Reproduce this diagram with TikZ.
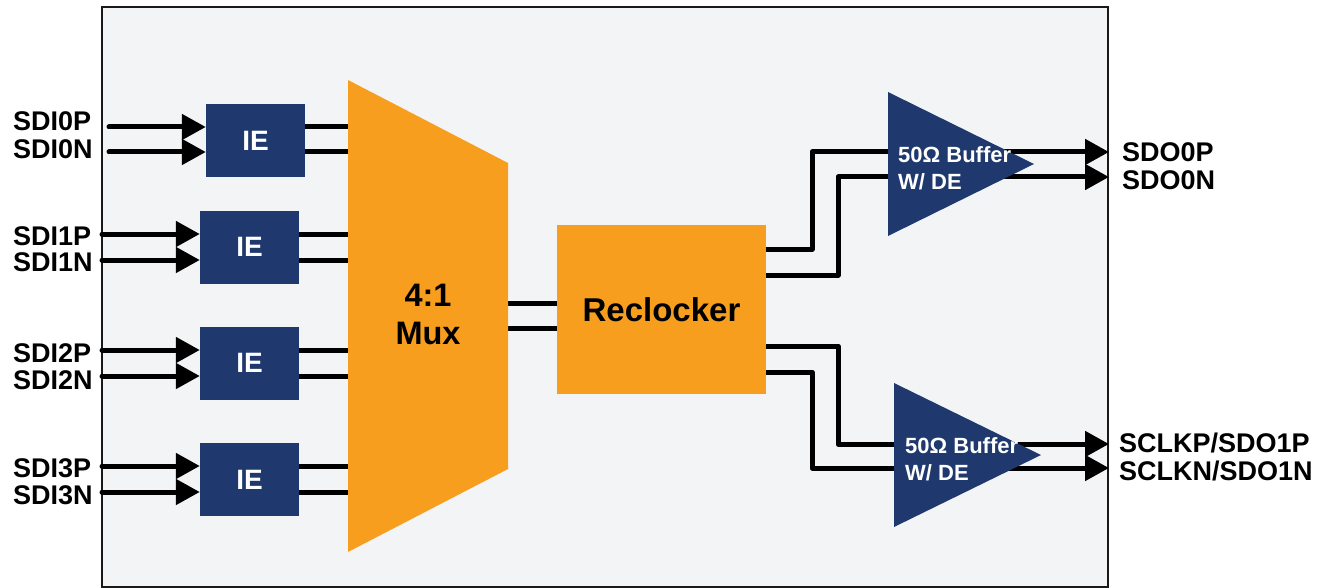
\documentclass[tikz,border=0pt]{standalone}
\usepackage{fontspec}
\setmainfont{Liberation Sans}
\usetikzlibrary{arrows.meta}
\definecolor{navy}{RGB}{31,57,110}
\definecolor{orng}{RGB}{248,158,30}
\definecolor{bgc}{RGB}{243,244,246}
\begin{document}
\begin{tikzpicture}[x=1pt,y=-1pt,
  wire/.style={line width=5pt,line cap=round,line join=round},
  arr/.style={line width=5pt,line cap=round,-{Triangle[length=24pt,width=25pt]}},
  iebox/.style={fill=navy,text=white,minimum width=99pt,minimum height=73pt,inner sep=0pt,font=\fontsize{28}{28}\selectfont\bfseries},
  orbox/.style={fill=orng,minimum width=209pt,minimum height=169pt,inner sep=0pt,font=\fontsize{33}{38}\selectfont\bfseries},
  lbl/.style={anchor=west,inner sep=0pt,font=\fontsize{27}{27}\selectfont\bfseries},
  buftxt/.style={anchor=west,inner sep=0pt,text=white,align=left,font=\fontsize{22}{27}\selectfont\bfseries},
  bigtxt/.style={inner sep=0pt,align=center,font=\fontsize{32.5}{38}\selectfont\bfseries}]
\useasboundingbox (0,0) rectangle (1327,588);
\draw[fill=bgc,line width=2pt,draw=black!90] (102,7) rectangle (1108,587);

% coordinates
\coordinate (s0p) at (109,127); \coordinate (s0n) at (109,152);
\coordinate (s1p) at (102,234); \coordinate (s1n) at (102,260);
\coordinate (s2p) at (102,350); \coordinate (s2n) at (102,376);
\coordinate (s3p) at (102,466); \coordinate (s3n) at (102,492);
\coordinate (mtl) at (348,80); \coordinate (mtr) at (508,163);
\coordinate (mbr) at (508,469); \coordinate (mbl) at (348,552);
\coordinate (m1) at (508,303); \coordinate (m2) at (508,328);
\coordinate (r1) at (766,249); \coordinate (r2) at (766,275);
\coordinate (r3) at (766,346); \coordinate (r4) at (766,372);
\coordinate (ka) at (812,0); \coordinate (kb) at (838,0);
\coordinate (b1l) at (888,92); \coordinate (b1b) at (888,236); \coordinate (b1t) at (1034,164);
\coordinate (b2l) at (894,383); \coordinate (b2b) at (894,527); \coordinate (b2t) at (1041,455);
\coordinate (b1i1) at (920,152); \coordinate (b1i2) at (920,177);
\coordinate (b2i1) at (925,444); \coordinate (b2i2) at (925,468);
\coordinate (edge) at (1109,0);

% nodes (placed for reference)
\path
  (255.5,140.5) node[iebox] (ie0) {}
  (249.5,247) node[iebox] (ie1) {}
  (249.5,363) node[iebox] (ie2) {}
  (249.5,479.5) node[iebox] (ie3) {}
  (661.5,309.5) node[orbox] (rc) {};

% wires IE -> mux
\foreach \s/\b in {s0p/ie0,s0n/ie0,s1p/ie1,s1n/ie1,s2p/ie2,s2n/ie2,s3p/ie3,s3n/ie3}
  \draw[wire] (\s -| \b.center) -- (\s -| mtl);
% mux -> reclocker
\draw[wire] (m1) -- (m1 -| rc.center);
\draw[wire] (m2) -- (m2 -| rc.center);
% reclocker -> buffers
\draw[wire] (r1) -- (r1 -| ka) |- (b1i1);
\draw[wire] (r2) -- (r2 -| kb) |- (b1i2);
\draw[wire] (r3) -- (r3 -| kb) |- (b2i1);
\draw[wire] (r4) -- (r4 -| ka) |- (b2i2);
% outputs
\draw[arr] (b1i1) -- (b1i1 -| edge);
\draw[arr] (b1i2) -- (b1i2 -| edge);
\draw[arr] (b2i1) -- (b2i1 -| edge);
\draw[arr] (b2i2) -- (b2i2 -| edge);

% shapes
\node[iebox] at (ie0) {IE};
\node[iebox] at (ie1) {IE};
\node[iebox] at (ie2) {IE};
\node[iebox] at (ie3) {IE};
\fill[orng] (mtl) -- (mtr) -- (mbr) -- (mbl) -- cycle;
\node[orbox] at (rc) {Reclocker};
\fill[navy] (b1l) -- (b1t) -- (b1b) -- cycle;
\fill[navy] (b2l) -- (b2t) -- (b2b) -- cycle;

% input arrows
\foreach \s/\b in {s0p/ie0,s0n/ie0,s1p/ie1,s1n/ie1,s2p/ie2,s2n/ie2,s3p/ie3,s3n/ie3}
  \draw[arr] (\s) -- (\s -| \b.west);

% texts
\node[bigtxt] (mux) at (428,314) {4:1\\Mux};
\node[buftxt] (bt1) at (898,168.5) {50Ω Buffer\\W/ DE};
\node[buftxt] (bt2) at (905,459) {50Ω Buffer\\W/ DE};

\node[lbl] (l0p) at (13,121) {SDI0P};
\node[lbl] (l0n) at (13,149) {SDI0N};
\node[lbl] (l1p) at (13,236) {SDI1P};
\node[lbl] (l1n) at (13,262) {SDI1N};
\node[lbl] (l2p) at (13,353) {SDI2P};
\node[lbl] (l2n) at (13,380) {SDI2N};
\node[lbl] (l3p) at (13,468) {SDI3P};
\node[lbl] (l3n) at (13,495) {SDI3N};
\node[lbl] (o0p) at (1122,152) {SDO0P};
\node[lbl] (o0n) at (1122,180) {SDO0N};
\node[lbl] (o1p) at (1119,443) {SCLKP/SDO1P};
\node[lbl] (o1n) at (1119,471) {SCLKN/SDO1N};
\end{tikzpicture}
\end{document}
